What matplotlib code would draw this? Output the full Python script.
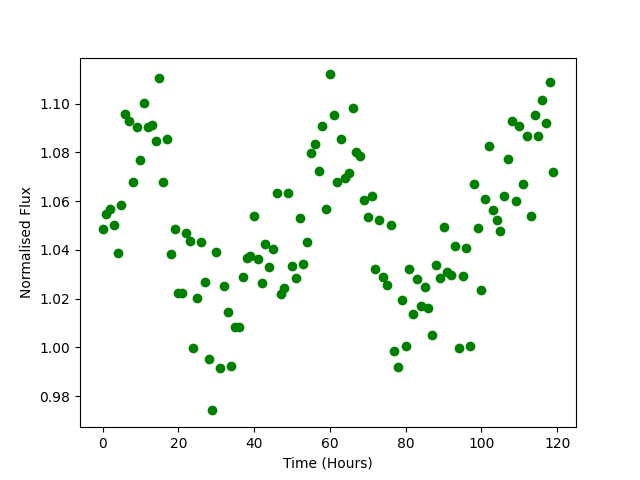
import numpy as np
import matplotlib
matplotlib.use('Agg')
import matplotlib.pyplot as plt

# time in hours, one sample per hour
hours = np.arange(120)

flux = [
    1.0488, 1.0549, 1.0570, 1.0501, 1.0389, 1.0584, 1.0957, 1.0927, 1.0677, 1.0903,
    1.0768, 1.1001, 1.0903, 1.0911, 1.0846, 1.1104, 1.0677, 1.0857, 1.0382, 1.0488,
    1.0225, 1.0225, 1.0471, 1.0437, 0.9999, 1.0205, 1.0434, 1.0270, 0.9954, 0.9742,
    1.0393, 0.9917, 1.0254, 1.0147, 0.9926, 1.0085, 1.0085, 1.0291, 1.0369, 1.0374,
    1.0541, 1.0361, 1.0266, 1.0426, 1.0332, 1.0402, 1.0632, 1.0221, 1.0242, 1.0632,
    1.0336, 1.0283, 1.0533, 1.0341, 1.0434, 1.0796, 1.0833, 1.0723, 1.0907, 1.0570,
    1.1120, 1.0953, 1.0677, 1.0857, 1.0697, 1.0714, 1.0981, 1.0800, 1.0784, 1.0603,
    1.0534, 1.0623, 1.0320, 1.0521, 1.0289, 1.0258, 1.0504, 0.9987, 0.9922, 1.0193,
    1.0005, 1.0322, 1.0139, 1.0280, 1.0172, 1.0250, 1.0163, 1.0053, 1.0340, 1.0287,
    1.0496, 1.0308, 1.0299, 1.0418, 0.9999, 1.0295, 1.0410, 1.0007, 1.0669, 1.0492,
    1.0237, 1.0607, 1.0825, 1.0562, 1.0521, 1.0478, 1.0621, 1.0771, 1.0927, 1.0599,
    1.0907, 1.0669, 1.0866, 1.0541, 1.0953, 1.0868, 1.1014, 1.0920, 1.1088, 1.0718,
]

plt.figure(figsize=(6.4, 4.8), dpi=100)
plt.scatter(hours, flux, color='green')
plt.xlabel('Time (Hours)')
plt.ylabel('Normalised Flux')
plt.savefig('out.png')
